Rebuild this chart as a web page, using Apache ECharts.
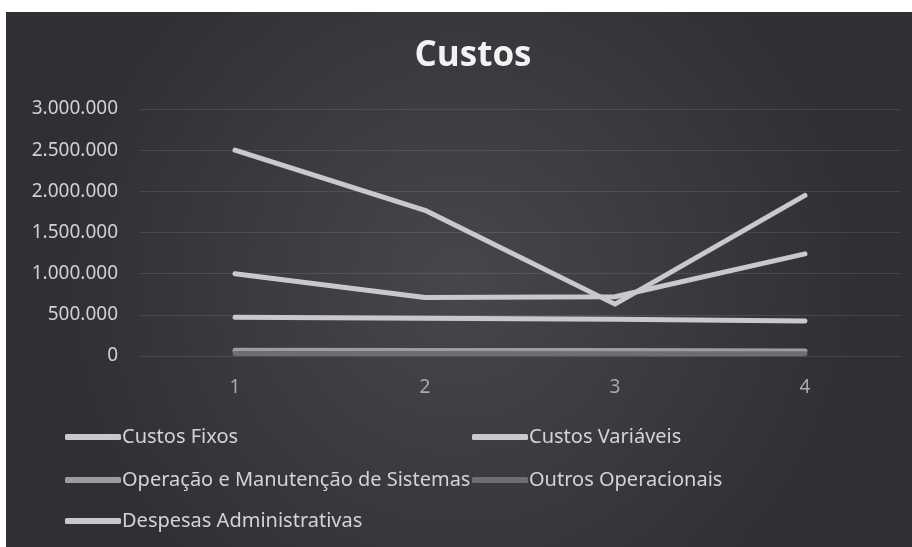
<!DOCTYPE html>
<html>
<head>
<meta charset="utf-8">
<script src="https://cdn.jsdelivr.net/npm/echarts@6/dist/echarts.min.js"></script>
<style>
  html, body { margin: 0; padding: 0; background: #ffffff; }
  #chart { width: 912px; height: 547px; }
</style>
</head>
<body>
<div id="chart"></div>
<script>
// dados do gráfico
const categories = ['1', '2', '3', '4']
const seriesNames = [
  'Custos Fixos',
  'Custos Variáveis',
  'Operação e Manutenção de Sistemas',
  'Outros Operacionais',
  'Despesas Administrativas'
]
const custosFixos = [2500000, 1770000, 630000, 1950000]
const custosVariaveis = [1000000, 710000, 720000, 1240000]
const operacaoManutencao = [70000, 68000, 66000, 62000]
const outrosOperacionais = [30000, 29000, 28000, 27000]
const despesasAdministrativas = [470000, 460000, 445000, 425000]
const yTicks = { min: 0, max: 3000000, interval: 500000 }

const seriesValues = [custosFixos, custosVariaveis, operacaoManutencao, outrosOperacionais, despesasAdministrativas]
const seriesColors = ['#c9c9cc', '#c9c9cc', '#9c9da1', '#6c6e74', '#c9c9cc']

// formata 2500000 -> 2.500.000
const fmt = v => String(v).replace(/\B(?=(\d{3})+(?!\d))/g, '.')

const chart = echarts.init(document.getElementById('chart'))

// posições da legenda (duas colunas, três linhas)
const legendPos = [
  { left: 65, top: 427 },
  { left: 472, top: 427 },
  { left: 65, top: 470 },
  { left: 472, top: 470 },
  { left: 65, top: 511 }
]

const option = {
  backgroundColor: 'transparent',
  animation: false,
  graphic: [{
    type: 'rect',
    z: -10,
    shape: { x: 6, y: 12, width: 906, height: 535 },
    style: {
      fill: new echarts.graphic.RadialGradient(0.5, 0.5, 0.75, [
        { offset: 0, color: '#45474d' },
        { offset: 1, color: '#2e3034' }
      ])
    },
    silent: true
  }],
  title: {
    text: 'Custos',
    left: 468,
    top: 34,
    textAlign: 'center',
    textStyle: {
      color: '#f2f2f2',
      fontFamily: 'Open Sans',
      fontWeight: 'bold',
      fontSize: 35
    }
  },
  legend: seriesNames.map((name, i) => ({
    data: [name],
    left: legendPos[i].left,
    top: legendPos[i].top,
    icon: 'roundRect',
    itemWidth: 56,
    itemHeight: 6,
    padding: 0,
    selectedMode: false,
    textStyle: {
      color: '#d4d4d6',
      fontFamily: 'Noto Sans',
      fontSize: 20,
      lineHeight: 20,
      padding: [0, 0, 0, -4]
    }
  })),
  grid: {
    left: 140,
    right: 12,
    top: 109,
    bottom: 191
  },
  xAxis: {
    type: 'category',
    data: categories,
    boundaryGap: true,
    axisLine: { show: false },
    axisTick: { show: false },
    axisLabel: {
      color: '#a9aaae',
      fontFamily: 'Noto Sans',
      fontSize: 19,
      margin: 22
    }
  },
  yAxis: {
    type: 'value',
    min: yTicks.min,
    max: yTicks.max,
    interval: yTicks.interval,
    axisLine: { show: false },
    axisTick: { show: false },
    splitLine: {
      lineStyle: { color: 'rgba(255,255,255,0.1)', width: 1 }
    },
    axisLabel: {
      color: '#cfd0d2',
      fontFamily: 'Noto Sans',
      fontSize: 19,
      margin: 22,
      formatter: v => fmt(v)
    }
  },
  series: seriesNames.map((name, i) => ({
    name: name,
    type: 'line',
    data: seriesValues[i],
    symbol: 'none',
    color: seriesColors[i],
    lineStyle: { width: 5, color: seriesColors[i], cap: 'round', join: 'round' }
  }))
}

chart.setOption(option)
</script>
</body>
</html>
